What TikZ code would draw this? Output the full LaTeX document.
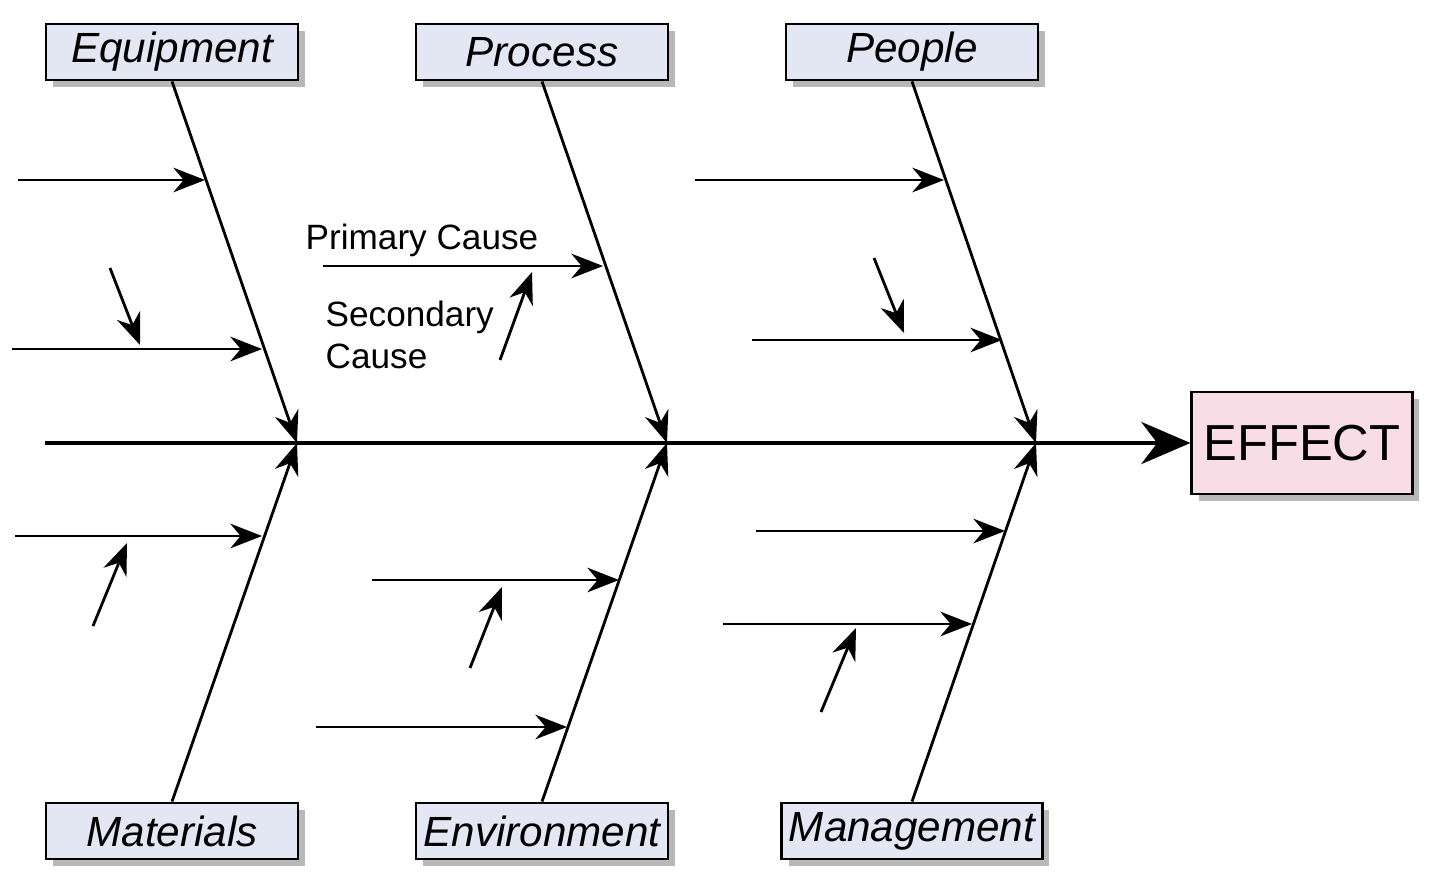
\documentclass[tikz,border=0pt]{standalone}
\usepackage{fontspec}
\setmainfont{Liberation Sans}
\definecolor{catfill}{HTML}{E3E7F3}
\definecolor{effectfill}{HTML}{F9DDE6}
\definecolor{shade}{HTML}{B8B8B8}
\usetikzlibrary{arrows.meta, positioning, shadows, calc}

\begin{document}
\begin{tikzpicture}[
    x=0.01cm, y=-0.01cm,
    cat/.style={
      rectangle, draw, fill=catfill, line width=0.8pt,
      minimum width=2.52cm, minimum height=0.56cm,
      font=\itshape\large, inner sep=2pt,
      drop shadow={shadow xshift=0.07cm, shadow yshift=-0.07cm, fill=shade, opacity=1}
    },
    effect/.style={
      rectangle, draw, fill=effectfill, line width=0.8pt,
      minimum width=2.19cm, minimum height=1.02cm, font=\Large,
      drop shadow={shadow xshift=0.07cm, shadow yshift=-0.07cm, fill=shade, opacity=1}
    },
    note/.style={font=\normalsize, align=left, inner sep=0pt},
    bone/.style={line width=0.8pt, -{Stealth[length=9pt, width=7pt]}},
    twig/.style={line width=0.8pt, -{Stealth[length=9pt, width=7pt]}},
    >=Stealth
  ]
    \useasboundingbox (0,0) rectangle (1440,891);

    % categories and effect
    \node[cat] (equip)   at (172,52)  {Equipment};
    \node[cat] (process) at (542,52)  {Process};
    \node[cat] (people)  at (912,52)  {People};
    \node[cat] (mater)   at (172,831) {Materials};
    \node[cat] (envir)   at (542,831) {Environment};
    \node[cat] (manage)  at (912,831) {Management};
    \node[effect] (effect) at (1302,443) {EFFECT};

    % spine
    \coordinate (tail) at (45,443);
    \coordinate (j1) at (297,443);
    \coordinate (j2) at (667,443);
    \coordinate (j3) at (1036,443);
    \draw[line width=1pt, -{Stealth[length=14pt, width=12pt]}] (tail) -- (effect);

    % main bones
    \draw[bone] (equip.south)   -- (j1);
    \draw[bone] (process.south) -- (j2);
    \draw[bone] (people.south)  -- (j3);
    \draw[bone] (mater.north)   -- (j1);
    \draw[bone] (envir.north)   -- (j2);
    \draw[bone] (manage.north)  -- (j3);

    % causes, top
    \coordinate (a1) at (18,180);  \coordinate (b1) at (205,180);
    \coordinate (a2) at (12,349);  \coordinate (b2) at (262,349);
    \coordinate (s1) at (110,268); \coordinate (t1) at (140,345);
    \coordinate (a3) at (323,266); \coordinate (b3) at (603,266);
    \coordinate (s2) at (500,360); \coordinate (t2) at (532,272);
    \coordinate (a4) at (695,180); \coordinate (b4) at (944,180);
    \coordinate (a5) at (752,340); \coordinate (b5) at (1002,340);
    \coordinate (s3) at (874,258); \coordinate (t3) at (904,333);
    \draw[twig] (a1) -- (b1);
    \draw[twig] (a2) -- (b2);
    \draw[twig] (s1) -- (t1);
    \draw[twig] (a3) -- (b3);
    \draw[twig] (s2) -- (t2);
    \draw[twig] (a4) -- (b4);
    \draw[twig] (a5) -- (b5);
    \draw[twig] (s3) -- (t3);

    % causes, bottom
    \coordinate (a6) at (15,536);   \coordinate (b6) at (262,536);
    \coordinate (s4) at (93,626);   \coordinate (t4) at (127,543);
    \coordinate (a7) at (372,580);  \coordinate (b7) at (619,580);
    \coordinate (s5) at (470,668);  \coordinate (t5) at (502,587);
    \coordinate (a8) at (316,727);  \coordinate (b8) at (567,727);
    \coordinate (a9) at (756,531);  \coordinate (b9) at (1005,531);
    \coordinate (a10) at (723,624); \coordinate (b10) at (972,624);
    \coordinate (s6) at (821,712);  \coordinate (t6) at (856,628);
    \draw[twig] (a6) -- (b6);
    \draw[twig] (s4) -- (t4);
    \draw[twig] (a7) -- (b7);
    \draw[twig] (s5) -- (t5);
    \draw[twig] (a8) -- (b8);
    \draw[twig] (a9) -- (b9);
    \draw[twig] (a10) -- (b10);
    \draw[twig] (s6) -- (t6);

    % labels
    \node[note, anchor=west] (primary) at (305,240) {Primary Cause};
    \node[note, anchor=north west] (secondary) at (325,300) {Secondary\\Cause};
  \end{tikzpicture}
\end{document}
